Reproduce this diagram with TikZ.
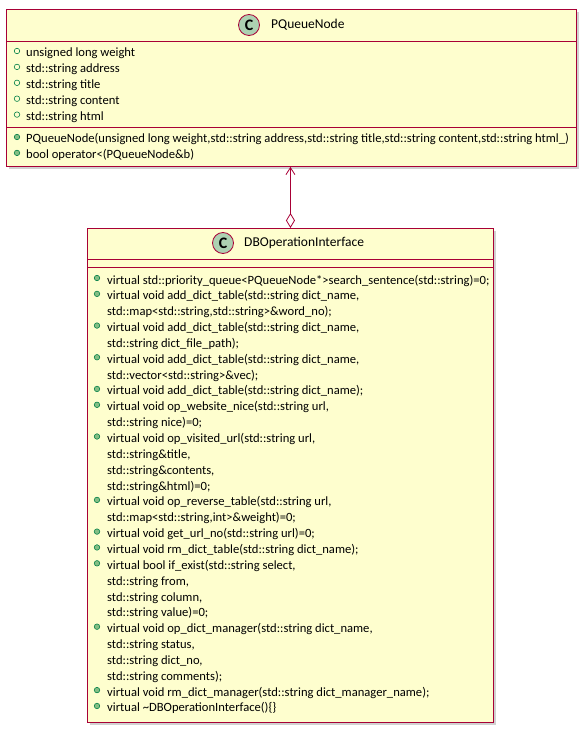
\documentclass[tikz,border=0pt]{standalone}
\usepackage{fontspec}
\setmainfont{Carlito}
\usetikzlibrary{positioning,arrows.meta}
\definecolor{umlfill}{HTML}{FEFECE}
\definecolor{umlline}{HTML}{A80036}
\definecolor{umlcirc}{HTML}{ADD1B2}
\definecolor{pubfill}{HTML}{84BE84}
\definecolor{publine}{HTML}{038048}
\tikzset{
  classbox/.style={draw=umlline,fill=umlfill,line width=0.9pt,inner sep=0,anchor=north west},
  shadowbox/.style={fill=black,opacity=0.18,inner sep=0,anchor=north west},
  classcirc/.style={circle,draw=umlline,fill=umlcirc,line width=0.8pt,minimum size=21pt,inner sep=0,font=\fontsize{16}{16}\selectfont\bfseries},
  classname/.style={anchor=west,inner sep=0,font=\fontsize{13.5}{15}\selectfont},
  member/.style={anchor=base west,inner sep=0,font=\fontsize{12.6}{14}\selectfont},
  attrdot/.style={circle,draw=publine,line width=0.6pt,minimum size=5.5pt,inner sep=0},
  opdot/.style={attrdot,fill=pubfill},
  sepline/.style={draw=umlline,line width=0.9pt},
  assoc/.style={draw=umlline,line width=0.8pt,{Straight Barb[length=7pt,width=9pt]}-{Diamond[open,length=15pt,width=9pt]}}
}
\begin{document}
\begin{tikzpicture}[x=1pt,y=-1pt]
  \useasboundingbox (0,0) rectangle (584,730);
  % PQueueNode
  \node[shadowbox,minimum width=570pt,minimum height=157pt] at (9,12) {};
  \node[classbox,minimum width=570pt,minimum height=157pt] (pq) at (6,9) {};
  \node[classcirc] (pqc) at (249,25) {C};
  \node[classname] (pqn) at (271,25) {PQueueNode};
  \draw[sepline] (pq.west |- 0,41) -- (pq.east |- 0,41);
  \draw[sepline] (pq.west |- 0,127) -- (pq.east |- 0,127);
  \foreach \txt [count=\i] in {unsigned long weight,std::string address,std::string title,std::string content,std::string html}{
    \node[attrdot] (pqa\i) at (17,{51+15.9*(\i-1)}) {};
    \node[member] (pqat\i) at (26,{57+15.9*(\i-1)}) {\txt};
  }
  \foreach \txt [count=\i] in {{PQueueNode(unsigned long weight,std::string address,std::string title,std::string content,std::string html\_)},{bool operator<(PQueueNode\&b)}}{
    \node[opdot] (pqo\i) at (17,{137+15.9*(\i-1)}) {};
    \node[member] (pqot\i) at (26,{143+15.9*(\i-1)}) {\txt};
  }
  % DBOperationInterface
  \node[shadowbox,minimum width=406pt,minimum height=494pt] at (90,231) {};
  \node[classbox,minimum width=406pt,minimum height=494pt] (db) at (87,228) {};
  \node[classcirc] (dbc) at (223,243) {C};
  \node[classname] (dbn) at (244,243) {DBOperationInterface};
  \draw[sepline] (db.west |- 0,259) -- (db.east |- 0,259);
  \draw[sepline] (db.west |- 0,267) -- (db.east |- 0,267);
  \foreach \txt/\dot [count=\i] in {
    {virtual std::priority\_queue<PQueueNode*>search\_sentence(std::string)=0;}/1,
    {virtual void add\_dict\_table(std::string dict\_name,}/1,
    {std::map<std::string,std::string>\&word\_no);}/0,
    {virtual void add\_dict\_table(std::string dict\_name,}/1,
    {std::string dict\_file\_path);}/0,
    {virtual void add\_dict\_table(std::string dict\_name,}/1,
    {std::vector<std::string>\&vec);}/0,
    {virtual void add\_dict\_table(std::string dict\_name);}/1,
    {virtual void op\_website\_nice(std::string url,}/1,
    {std::string nice)=0;}/0,
    {virtual void op\_visited\_url(std::string url,}/1,
    {std::string\&title,}/0,
    {std::string\&contents,}/0,
    {std::string\&html)=0;}/0,
    {virtual void op\_reverse\_table(std::string url,}/1,
    {std::map<std::string,int>\&weight)=0;}/0,
    {virtual void get\_url\_no(std::string url)=0;}/1,
    {virtual void rm\_dict\_table(std::string dict\_name);}/1,
    {virtual bool if\_exist(std::string select,}/1,
    {std::string from,}/0,
    {std::string column,}/0,
    {std::string value)=0;}/0,
    {virtual void op\_dict\_manager(std::string dict\_name,}/1,
    {std::string status,}/0,
    {std::string dict\_no,}/0,
    {std::string comments);}/0,
    {virtual void rm\_dict\_manager(std::string dict\_manager\_name);}/1,
    {virtual \textasciitilde DBOperationInterface()\{\}}/1}{
    \ifnum\dot=1
      \node[opdot] (dbo\i) at (97,{278+15.85*(\i-1)}) {};
    \fi
    \node[member] (dbt\i) at (107,{284+15.85*(\i-1)}) {\txt};
  }
  \draw[assoc] (pq.south -| db.north) -- (db.north);
\end{tikzpicture}
\end{document}
